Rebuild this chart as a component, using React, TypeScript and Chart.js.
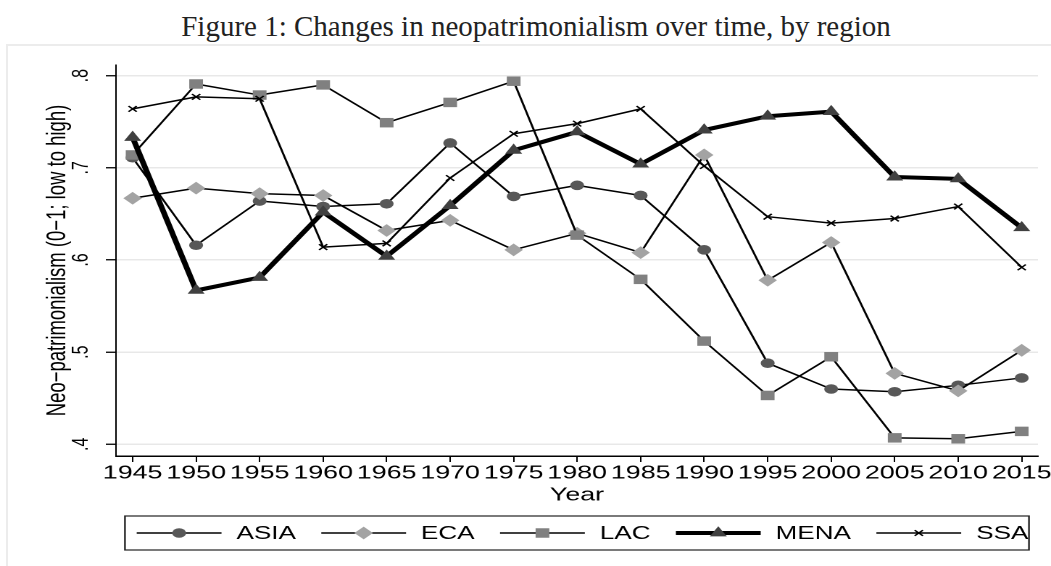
import React, { useEffect, useRef } from 'react';
import { Chart, registerables } from 'chart.js';
import { drawPoint } from 'chart.js/helpers';

Chart.register(...registerables);

// ---------- data ----------
const years = [1945, 1950, 1955, 1960, 1965, 1970, 1975, 1980, 1985, 1990, 1995, 2000, 2005, 2010, 2015];
const asia = [0.711, 0.616, 0.664, 0.658, 0.661, 0.727, 0.669, 0.681, 0.670, 0.611, 0.488, 0.460, 0.457, 0.464, 0.472];
const eca = [0.667, 0.678, 0.672, 0.670, 0.632, 0.643, 0.611, 0.629, 0.608, 0.714, 0.578, 0.619, 0.477, 0.458, 0.502];
const lac = [0.714, 0.791, 0.779, 0.790, 0.749, 0.771, 0.794, 0.627, 0.579, 0.512, 0.453, 0.495, 0.407, 0.406, 0.414];
const mena = [0.733, 0.567, 0.581, 0.652, 0.604, 0.659, 0.719, 0.739, 0.704, 0.741, 0.756, 0.761, 0.690, 0.688, 0.635];
const ssa = [0.764, 0.777, 0.775, 0.614, 0.618, 0.689, 0.737, 0.748, 0.764, 0.702, 0.647, 0.640, 0.645, 0.658, 0.592];
const yTickValues = [0.4, 0.5, 0.6, 0.7, 0.8];
const seriesNames = ['ASIA', 'ECA', 'LAC', 'MENA', 'SSA'];
const titleText = 'Figure 1: Changes in neopatrimonialism over time, by region';
const yTitle = 'Neo\u2212patrimonialism (0\u22121; low to high)';
const xTitle = 'Year';

// ---------- styles ----------
const SANS = '"Liberation Sans", Arial, Helvetica, sans-serif';
const CW = 725; // canvas logical width (stretched horizontally to 1051)
const CH = 521;
const STRETCH = 1051 / CW;

const seriesStyles = [
  { fill: 'rgb(88,88,88)', pointStyle: 'circle', radius: 4.8, lineWidth: 1.5, border: 0 },
  { fill: 'rgb(163,163,163)', pointStyle: 'rectRot', radius: 6.4, lineWidth: 1.5, border: 0 },
  { fill: 'rgb(128,128,128)', pointStyle: 'rect', radius: 6.7, lineWidth: 1.5, border: 0 },
  { fill: 'rgb(64,64,64)', pointStyle: 'triangle', radius: 6.8, lineWidth: 4, border: 0 },
  { fill: '#000', pointStyle: 'crossRot', radius: 4, lineWidth: 1.5, border: 1.3 },
];
const seriesValues = [asia, eca, lac, mena, ssa];

const legendPlugin = {
  id: 'stataLegend',
  afterDraw(chart: any) {
    const ctx = chart.ctx as CanvasRenderingContext2D;
    const boxL = 86.2, boxR = 709.8, boxT = 471, boxB = 505;
    const lineY = 488;
    const textY = 494;
    ctx.save();
    ctx.strokeStyle = '#222';
    ctx.lineWidth = 1.2;
    ctx.strokeRect(boxL, boxT, boxR - boxL, boxB - boxT);
    ctx.font = `18px ${SANS}`;
    ctx.textBaseline = 'alphabetic';
    ctx.textAlign = 'left';
    let x = boxL + 8.1;
    seriesNames.forEach((name, i) => {
      const st = seriesStyles[i];
      const x0 = x;
      const x1 = x + 58.5;
      ctx.beginPath();
      ctx.strokeStyle = '#000';
      ctx.lineWidth = st.lineWidth;
      ctx.moveTo(x0, lineY);
      ctx.lineTo(x1, lineY);
      ctx.stroke();
      ctx.fillStyle = st.fill;
      ctx.strokeStyle = st.fill;
      ctx.lineWidth = st.border;
      drawPoint(ctx, { pointStyle: st.pointStyle, radius: st.radius, borderWidth: st.border, rotation: 0 } as any, (x0 + x1) / 2, lineY);
      const tx = x1 + 10.3;
      ctx.fillStyle = '#000';
      ctx.fillText(name, tx, textY);
      x = tx + ctx.measureText(name).width + 17.5;
    });
    ctx.restore();
  },
};

export default function App() {
  const canvasRef = useRef<HTMLCanvasElement | null>(null);

  useEffect(() => {
    if (!canvasRef.current) return;
    const datasets = seriesNames.map((name, i) => {
      const st = seriesStyles[i];
      return {
        label: name,
        data: years.map((yr, j) => ({ x: yr, y: seriesValues[i][j] })),
        borderColor: '#000',
        borderWidth: st.lineWidth,
        borderJoinStyle: 'round' as const,
        fill: false,
        tension: 0,
        pointStyle: st.pointStyle,
        pointRadius: st.radius,
        pointHoverRadius: st.radius,
        pointBackgroundColor: st.fill,
        pointBorderColor: st.fill,
        pointBorderWidth: st.border,
        order: 5 - i,
      };
    });

    const chart = new Chart(canvasRef.current, {
      type: 'line',
      data: { datasets: datasets as any },
      plugins: [legendPlugin],
      options: {
        animation: false,
        responsive: false,
        devicePixelRatio: 2,
        events: [],
        layout: { padding: { left: 0, right: 9, top: 20, bottom: 58 } },
        plugins: {
          legend: { display: false },
          title: { display: false },
          tooltip: { enabled: false },
        },
        scales: {
          x: {
            type: 'linear',
            min: 1943.69,
            max: 2016.28,
            afterBuildTicks: (scale: any) => {
              scale.ticks = years.map((v) => ({ value: v }));
            },
            afterFit: (scale: any) => {
              scale.height = 52;
              scale.paddingLeft = 0;
              scale.paddingRight = 0;
            },
            grid: {
              display: true,
              drawOnChartArea: false,
              drawTicks: true,
              tickLength: 6,
              tickColor: '#000',
              tickWidth: 1,
            },
            border: { display: true, color: '#000', width: 1.5 },
            ticks: {
              autoSkip: false,
              maxRotation: 0,
              minRotation: 0,
              padding: 0.5,
              color: '#000',
              font: { family: SANS, size: 18.5 },
              callback: (v: any) => String(v),
            },
            title: {
              display: true,
              text: xTitle,
              color: '#000',
              font: { family: SANS, size: 18.5 },
              padding: { top: 0, bottom: 1.3 },
            },
          },
          y: {
            type: 'linear',
            min: 0.3873,
            max: 0.8116,
            afterBuildTicks: (scale: any) => {
              scale.ticks = yTickValues.map((v) => ({ value: v }));
            },
            afterFit: (scale: any) => {
              scale.width = 80;
              scale.paddingTop = 0;
              scale.paddingBottom = 0;
            },
            grid: {
              display: true,
              drawOnChartArea: true,
              color: '#e8e8e8',
              lineWidth: 1.5,
              drawTicks: true,
              tickLength: 7,
              tickColor: '#000',
              tickWidth: 1.3,
            },
            border: { display: true, color: '#000', width: 1 },
            ticks: {
              minRotation: 90,
              maxRotation: 90,
              crossAlign: 'center',
              padding: 10.4,
              color: '#000',
              font: { family: SANS, size: 16 },
              callback: (v: any) => '.' + Math.round(Number(v) * 10),
            },
            title: {
              display: true,
              text: yTitle,
              color: '#000',
              font: { family: SANS, size: 18.5 },
              padding: { top: 28.7, bottom: 0 },
            },
          },
        },
      } as any,
    });
    return () => chart.destroy();
  }, []);

  return (
    <div style={{ position: 'absolute', left: 0, top: 0, width: 1051, height: 566, overflow: 'hidden', background: '#fff' }}>
      <div
        style={{
          position: 'absolute',
          left: 0,
          top: 12,
          width: 1072,
          textAlign: 'center',
          fontFamily: '"Liberation Serif", "Times New Roman", serif',
          fontSize: 29,
          lineHeight: '29px',
          color: '#222',
          whiteSpace: 'nowrap',
        }}
      >
        {titleText}
      </div>
      <div
        style={{
          position: 'absolute',
          left: 6,
          top: 44,
          width: 1100,
          height: 600,
          border: '2px solid #ececec',
          boxSizing: 'border-box',
        }}
      />
      <div
        style={{
          position: 'absolute',
          left: 0,
          top: 45,
          width: CW,
          height: CH,
          transform: `scaleX(${STRETCH})`,
          transformOrigin: '0 0',
        }}
      >
        <canvas ref={canvasRef} width={CW} height={CH} style={{ width: CW, height: CH, display: 'block' }} />
      </div>
    </div>
  );
}
